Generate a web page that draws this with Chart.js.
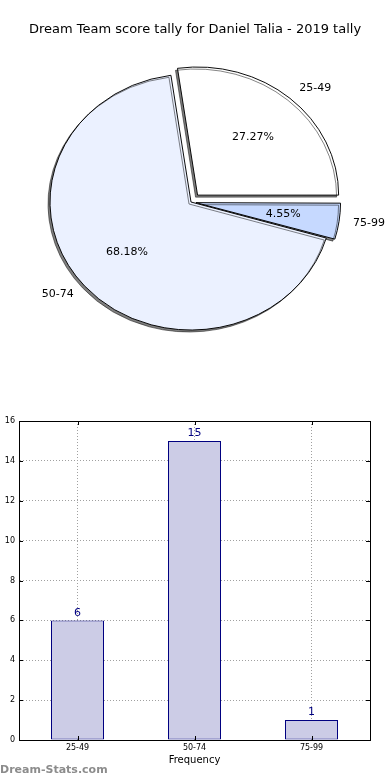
<!DOCTYPE html>
<html>
<head>
<meta charset="utf-8">
<script src="https://cdn.jsdelivr.net/npm/chart.js@4.4.0/dist/chart.umd.min.js"></script>
<style>
body { margin: 0; background: #fff; }
canvas { display: block; }
</style>
</head>
<body>
<canvas id="pieChart" width="390" height="400"></canvas>
<canvas id="barChart" width="390" height="380"></canvas>
<script>
// score bands and how many games fell in each
var scoreBands = ["25-49", "50-74", "75-99"];
var bandCounts = [6, 15, 1];
var yTicks = [0, 2, 4, 6, 8, 10, 12, 14, 16];
var chartTitle = "Dream Team score tally for Daniel Talia - 2019 tally";

var total = bandCounts.reduce(function (a, b) { return a + b; }, 0);

// matplotlib goes counter-clockwise from 3 o'clock, chart.js goes clockwise -> reverse
var pieLabels = scoreBands.slice().reverse();
var pieCounts = bandCounts.slice().reverse();
var pieColors = ["#c6d9ff", "#ebf1ff", "#ffffff"];
var pieOffsets = [20, 0, 40];
// the original pie is a little squashed vertically
var squash = 0.908;

var font = '"DejaVu Sans", sans-serif';

var pieText = {
  id: 'pieText',
  beforeDatasetsDraw: function (chart) {
    var ctx = chart.ctx;
    var cy = chart.getDatasetMeta(0).data[0].y;
    ctx.save();
    ctx.translate(0, cy);
    ctx.scale(1, squash);
    ctx.translate(0, -cy);
    ctx.shadowColor = 'rgba(0,0,0,0.5)';
    ctx.shadowOffsetX = -2;
    ctx.shadowOffsetY = 2;
    ctx.shadowBlur = 0;
  },
  afterDatasetsDraw: function (chart) {
    var ctx = chart.ctx;
    ctx.restore();
    ctx.save();
    ctx.fillStyle = '#000';
    ctx.textBaseline = 'middle';
    ctx.font = '11px ' + font;
    chart.getDatasetMeta(0).data.forEach(function (arc, i) {
      var p = arc.getProps(['x', 'y', 'startAngle', 'endAngle', 'outerRadius', 'circumference'], true);
      var mid = (p.startAngle + p.endAngle) / 2;
      // same shift the arc element applies for its offset
      var off = pieOffsets[i] / 4 * (2 - Math.sin(Math.min(Math.PI, p.circumference)));
      var r = p.outerRadius;
      var pos = function (k) {
        return [p.x + Math.cos(mid) * (off + r * k), p.y + Math.sin(mid) * (off + r * k) * squash];
      };
      var pct = (pieCounts[i] / total * 100).toFixed(2) + '%';
      var pp = pos(0.6);
      ctx.textAlign = 'center';
      ctx.fillText(pct, pp[0], pp[1]);
      var lp = pos(1.1);
      ctx.textAlign = Math.cos(mid) < 0 ? 'right' : 'left';
      ctx.fillText(pieLabels[i], lp[0], lp[1]);
    });
    ctx.textAlign = 'center';
    ctx.font = '13px ' + font;
    ctx.fillText(chartTitle, 195, 30);
    ctx.restore();
  }
};

new Chart(document.getElementById('pieChart'), {
  type: 'pie',
  data: {
    labels: pieLabels,
    datasets: [{
      data: pieCounts,
      backgroundColor: pieColors,
      borderColor: '#000',
      borderWidth: 1,
      offset: pieOffsets,
      radius: 141,
      rotation: 90
    }]
  },
  options: {
    responsive: false,
    animation: false,
    layout: { padding: { left: 0, right: 8, top: 4, bottom: 0 } },
    plugins: { legend: { display: false }, tooltip: { enabled: false } }
  },
  plugins: [pieText]
});

var barExtras = {
  id: 'barExtras',
  afterDraw: function (chart) {
    var ctx = chart.ctx;
    var a = chart.chartArea;
    var xs = chart.scales.x, ys = chart.scales.y;
    ctx.save();
    // box + inward tick marks
    ctx.strokeStyle = '#000';
    ctx.lineWidth = 1;
    ctx.beginPath();
    yTicks.forEach(function (t) {
      var y = Math.round(ys.getPixelForValue(t)) + 0.5;
      ctx.moveTo(a.left, y); ctx.lineTo(a.left + 4, y);
      ctx.moveTo(a.right, y); ctx.lineTo(a.right - 4, y);
    });
    scoreBands.forEach(function (b, i) {
      var x = Math.round(xs.getPixelForValue(i)) + 0.5;
      ctx.moveTo(x, a.bottom); ctx.lineTo(x, a.bottom - 4);
      ctx.moveTo(x, a.top); ctx.lineTo(x, a.top + 4);
    });
    ctx.stroke();
    ctx.strokeRect(Math.round(a.left) + 0.5, Math.round(a.top) + 0.5,
      Math.round(a.right - a.left), Math.round(a.bottom - a.top));

    // values on top of bars
    ctx.fillStyle = '#000080';
    ctx.font = '11px ' + font;
    ctx.textAlign = 'center';
    ctx.textBaseline = 'bottom';
    chart.getDatasetMeta(0).data.forEach(function (bar, i) {
      ctx.fillText(bandCounts[i], bar.x, bar.y - 2);
    });

    // axis titles
    ctx.fillStyle = '#000';
    ctx.font = '10px ' + font;
    ctx.textBaseline = 'middle';
    ctx.fillText('Frequency', (a.left + a.right) / 2, 360);
    ctx.save();
    ctx.translate(-3, (a.top + a.bottom) / 2);
    ctx.rotate(-Math.PI / 2);
    ctx.fillText('Score Interval', 0, 0);
    ctx.restore();

    // watermark
    ctx.fillStyle = '#8c8c8c';
    ctx.font = 'bold 11px ' + font;
    ctx.textAlign = 'left';
    ctx.fillText('Dream-Stats.com', 0, 370);
    ctx.restore();
  }
};

new Chart(document.getElementById('barChart'), {
  type: 'bar',
  data: {
    labels: scoreBands,
    datasets: [{
      data: bandCounts,
      backgroundColor: '#ccccE6',
      borderColor: '#000080',
      borderWidth: 1,
      borderSkipped: false,
      barPercentage: 53 / 117,
      categoryPercentage: 1
    }]
  },
  options: {
    responsive: false,
    animation: false,
    layout: { padding: { left: 0, right: 20, top: 21, bottom: 0 } },
    plugins: { legend: { display: false }, tooltip: { enabled: false } },
    scales: {
      x: {
        z: 1,
        grid: { offset: false, color: '#a0a0a0', drawTicks: false },
        border: { color: '#000', dash: [1, 2] },
        ticks: { color: '#000', font: { size: 8, family: font }, padding: 3 },
        afterFit: function (s) { s.height = 40; }
      },
      y: {
        z: 1,
        min: 0,
        max: 16,
        afterBuildTicks: function (s) { s.ticks = yTicks.map(function (v) { return { value: v }; }); },
        grid: { color: '#a0a0a0', drawTicks: false },
        border: { color: '#000', dash: [1, 2] },
        ticks: { color: '#000', font: { size: 8, family: font }, padding: 4 },
        afterFit: function (s) { s.width = 19; }
      }
    }
  },
  plugins: [barExtras]
});
</script>
</body>
</html>
